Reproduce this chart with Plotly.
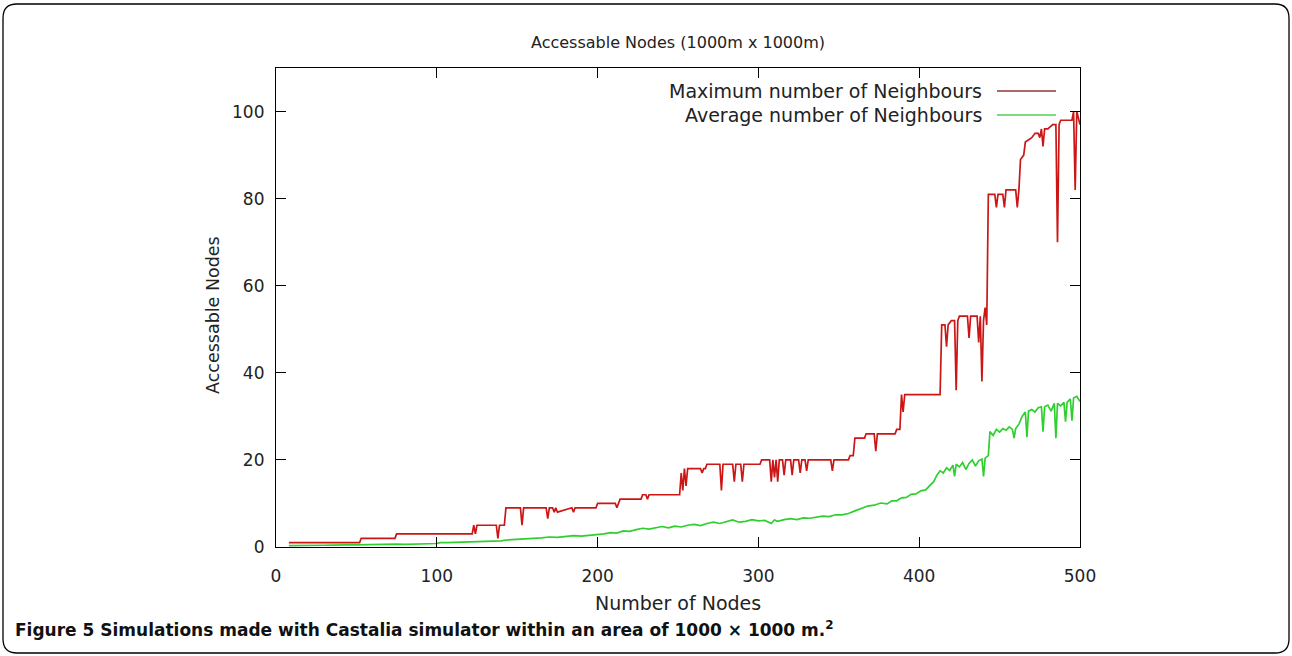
import plotly.graph_objects as go

# ---- data -------------------------------------------------------------
# Maximum number of neighbours (node count -> value)
max_x = [8, 52, 53, 74, 75, 122, 123, 124, 125, 137, 138, 139, 142, 143,
         152, 153, 154, 168, 169, 170, 172, 173, 174, 175, 184, 185, 186,
         199, 200, 211, 212, 213, 214, 227, 228, 230, 231, 232, 251, 252,
         253, 254, 255, 256, 264, 265, 266, 267, 268, 276, 277, 278, 284,
         285, 286, 289, 290, 291, 301, 302, 307, 308, 309, 310, 311, 312,
         313, 315, 316, 317, 320, 321, 322, 325, 326, 327, 329, 330, 331,
         345, 346, 347, 356, 357, 359, 360, 366, 367, 372, 373, 374, 385,
         386, 388, 389, 390, 391, 413, 414, 416, 417, 418, 420, 422, 423,
         424, 425, 430, 431, 432, 436, 437, 438, 439, 440, 441, 442, 443,
         447, 448, 449, 452, 453, 454, 460, 461, 462, 463, 465, 466, 470,
         472, 474, 475, 476, 477, 478, 480, 483, 485, 486, 487, 488, 495,
         496, 497, 498, 500]
max_y = [1, 1, 2, 2, 3, 3, 5, 3, 5, 5, 2, 5, 5, 9,
         9, 5, 9, 9, 6.5, 9, 9, 8, 9, 8, 9, 8, 9,
         9, 10, 10, 9, 10, 11, 11, 12, 12, 11, 12, 12, 17,
         13, 18, 14, 18, 18, 17, 18, 18, 19, 19, 13, 19, 19,
         15, 19, 19, 15, 19, 19, 20, 20, 15, 20, 16, 20, 15,
         20, 20, 16.5, 20, 20, 16.5, 20, 20, 17, 20, 20, 17.5, 20,
         20, 17.5, 20, 20, 21, 21, 25, 25, 26, 26, 22, 26, 26,
         27, 27, 35, 31, 35, 35, 51, 51, 46, 51, 52, 52, 36,
         52, 53, 53, 48, 53, 53, 47, 53, 38, 52, 55, 51, 81,
         81, 78, 81, 81, 78, 82, 82, 78, 82, 89, 90, 93, 94,
         95, 95, 94, 96, 92, 96, 96, 97, 97, 70, 97, 98, 98,
         100, 82, 100, 97]

# Average number of neighbours
avg_x = [8, 12, 16, 20, 25, 30, 35, 40, 45, 50,
         55, 60, 65, 70, 75, 80, 85, 90, 95, 100,
         102, 106, 110, 115, 120, 125, 130, 135, 140, 143,
         146, 150, 155, 160, 165, 170, 175, 180, 185, 190,
         195, 200, 204, 208, 212, 216, 220, 224, 228, 232,
         236, 240, 244, 248, 252, 256, 260, 264, 268, 272,
         276, 280, 284, 288, 292, 296, 300, 304, 308, 310,
         312, 316, 320, 324, 328, 332, 336, 340, 344, 348,
         352, 356, 360, 364, 368, 372, 376, 380, 383, 386,
         389, 392, 395, 398, 401, 404, 407, 409, 411, 413,
         415, 417, 419, 421, 422, 423, 425, 427, 429, 431,
         433, 435, 437, 439, 440, 441, 443, 444, 446, 448,
         450, 452, 454, 456, 458, 459, 460, 462, 464, 466,
         467, 468, 470, 472, 474, 476, 477, 478, 480, 482,
         484, 485, 486, 488, 490, 491, 492, 494, 495, 496,
         498, 500]
avg_y = [0.3, 0.35, 0.3, 0.35, 0.4, 0.4, 0.45, 0.4, 0.5, 0.5,
         0.55, 0.5, 0.6, 0.6, 0.65, 0.6, 0.7, 0.7, 0.75, 0.8,
         1.0, 1.0, 1.05, 1.1, 1.1, 1.2, 1.25, 1.3, 1.4, 1.6,
         1.7, 1.8, 1.9, 2.0, 2.1, 2.3, 2.2, 2.4, 2.6, 2.5,
         2.7, 2.8, 3.0, 3.3, 3.2, 3.7, 3.6, 4.0, 4.3, 4.1,
         4.4, 4.7, 4.4, 4.8, 4.6, 5.0, 5.2, 4.9, 5.4, 5.7,
         5.4, 5.8, 6.2, 5.7, 5.9, 6.3, 6.0, 6.1, 5.4, 6.2,
         5.9, 6.3, 6.5, 6.3, 6.7, 6.6, 6.9, 7.1, 7.0, 7.4,
         7.4, 7.7, 8.3, 8.8, 9.4, 9.6, 10.1, 9.9, 10.6, 10.6,
         11.3, 11.4, 12.1, 12.2, 12.9, 13.1, 14.2, 15.0, 16.5, 17.5,
         17.0, 18.2, 17.6, 18.8, 16.2, 19.0, 18.4, 19.4, 17.8, 19.2,
         20.0, 18.6, 19.8, 20.2, 16.2, 20.4, 21.0, 26.5, 25.6, 27.0,
         26.4, 27.2, 26.8, 27.6, 27.0, 25.0, 27.2, 28.2, 30.0, 31.0,
         25.2, 31.2, 31.6, 31.0, 32.0, 32.2, 26.5, 32.2, 32.6, 31.2,
         33.0, 25.0, 33.0, 32.4, 33.2, 28.8, 33.2, 34.0, 29.0, 34.2,
         34.6, 33.4]

series_names = ["Maximum number of Neighbours", "Average number of Neighbours"]
x_ticks = [0, 100, 200, 300, 400, 500]
y_ticks = [0, 20, 40, 60, 80, 100]

# ---- layout geometry (pixels) -----------------------------------------
W, H = 1292, 656
L, R, T, B = 276, 1080, 68, 547          # plot-area edges


def px(x):
    return (x - L) / (R - L)


def py(y):
    return (B - y) / (B - T)


RED = "#cc1616"
GREEN = "#2fcf2f"
FONT = "DejaVu Sans"
INK = "#222"

fig = go.Figure()
fig.add_trace(go.Scatter(x=max_x, y=max_y, mode="lines", name=series_names[0],
                         line=dict(color=RED, width=1.7), showlegend=False))
fig.add_trace(go.Scatter(x=avg_x, y=avg_y, mode="lines", name=series_names[1],
                         line=dict(color=GREEN, width=1.7), showlegend=False))

axis_common = dict(showline=True, linecolor="black", linewidth=1.2,
                   mirror="ticks", ticks="inside", ticklen=10, tickwidth=1.2,
                   tickcolor="black", showgrid=False, zeroline=False,
                   tickfont=dict(family=FONT, size=17, color=INK))
fig.update_xaxes(range=[0, 500], tickvals=x_ticks, ticklabelstandoff=13,
                 **axis_common)
fig.update_yaxes(range=[0, 110], tickvals=y_ticks, ticklabelstandoff=7,
                 **axis_common)

annotations = [
    dict(text="Accessable Nodes (1000m x 1000m)", x=0.5, y=py(43),
         font=dict(family=FONT, size=16, color=INK)),
    dict(text="Number of Nodes", x=0.5, y=py(603),
         font=dict(family=FONT, size=19, color=INK)),
    dict(text="Accessable Nodes", x=px(213), y=py(315), textangle=-90,
         font=dict(family=FONT, size=17.5, color=INK)),
    dict(text="<b>Figure 5 Simulations made with Castalia simulator within "
              "an area of 1000 \u00d7 1000 m.<sup>2</sup></b>",
         x=px(13), y=py(629), xanchor="left",
         font=dict(family=FONT, size=17, color="#111")),
]
# legend entries: text right-aligned, sample line to the right
shapes = []
for name, colr, yy in [(series_names[0], "#8e3636", 91),
                       (series_names[1], "#55cc55", 115)]:
    annotations.append(dict(text=name, x=px(984), y=py(yy), xanchor="right",
                            font=dict(family=FONT, size=19, color=INK)))
    shapes.append(dict(type="line", xref="paper", yref="paper",
                       x0=px(997), x1=px(1056), y0=py(yy), y1=py(yy),
                       line=dict(color=colr, width=1.6)))

for a in annotations:
    a.setdefault("xref", "paper")
    a.setdefault("yref", "paper")
    a.setdefault("showarrow", False)
    a.setdefault("xanchor", "center")
    a.setdefault("yanchor", "middle")

# rounded outer frame around the whole figure
x0, x1, y0, y1, r = 3, 1289, 4, 653, 14
frame = (f"M {px(x0 + r)},{py(y0)} L {px(x1 - r)},{py(y0)} "
         f"Q {px(x1)},{py(y0)} {px(x1)},{py(y0 + r)} "
         f"L {px(x1)},{py(y1 - r)} Q {px(x1)},{py(y1)} {px(x1 - r)},{py(y1)} "
         f"L {px(x0 + r)},{py(y1)} Q {px(x0)},{py(y1)} {px(x0)},{py(y1 - r)} "
         f"L {px(x0)},{py(y0 + r)} Q {px(x0)},{py(y0)} {px(x0 + r)},{py(y0)} Z")
shapes.append(dict(type="path", xref="paper", yref="paper", path=frame,
                   line=dict(color="black", width=1.3)))

fig.update_layout(width=W, height=H,
                  margin=dict(l=L, r=W - R, t=T, b=H - B),
                  paper_bgcolor="white", plot_bgcolor="white",
                  annotations=annotations, shapes=shapes, showlegend=False)

fig.write_html("out.html")
